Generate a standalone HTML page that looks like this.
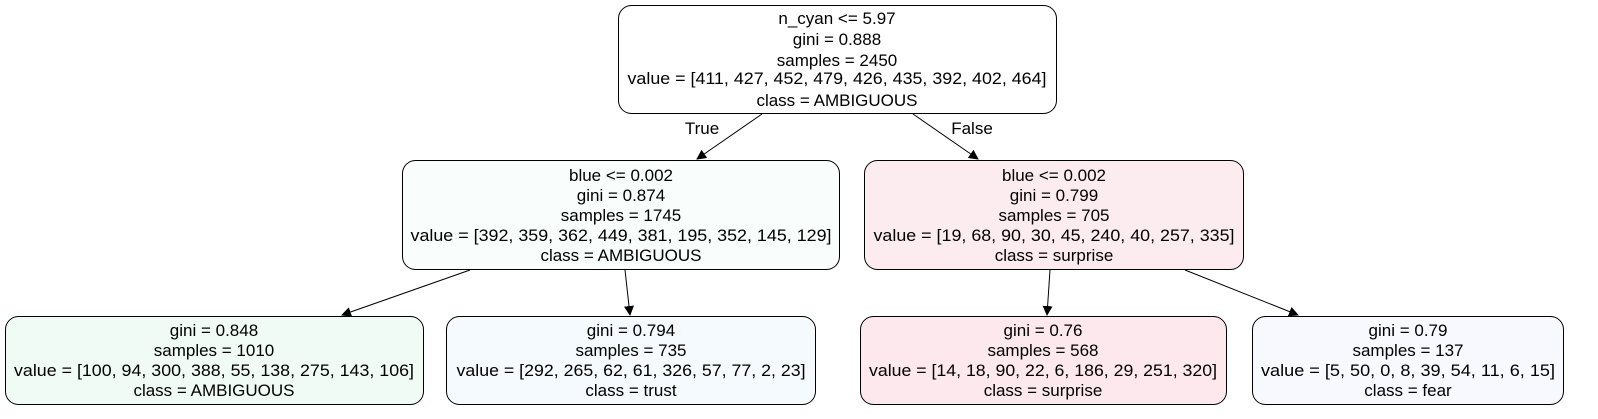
<!DOCTYPE html>
<html><head><meta charset="utf-8"><style>
html,body{margin:0;padding:0;background:#fff;}
svg{display:block;font-family:"Liberation Sans",sans-serif;}
text{font-size:17px;fill:#000;text-anchor:middle;}
</style></head><body>
<svg width="1598" height="419" viewBox="0 0 1598 419">
<defs><marker id="ah" markerWidth="10" markerHeight="10" refX="9" refY="5" orient="auto" markerUnits="userSpaceOnUse"><path d="M0,0 L10,5 L0,10 z" fill="#000"/></marker></defs>
<g stroke="#000" stroke-width="1">
<line x1="762" y1="114" x2="697" y2="159" marker-end="url(#ah)"/>
<line x1="913" y1="114" x2="978" y2="159" marker-end="url(#ah)"/>
<line x1="470" y1="270" x2="342" y2="315" marker-end="url(#ah)"/>
<line x1="625" y1="270" x2="630" y2="315" marker-end="url(#ah)"/>
<line x1="1050" y1="270" x2="1047" y2="315" marker-end="url(#ah)"/>
<line x1="1185" y1="270" x2="1298" y2="315" marker-end="url(#ah)"/>
</g>
<text x="702" y="134">True</text>
<text x="972" y="134">False</text>

<g>
<rect x="618.5" y="5.5" width="438" height="108" rx="13" fill="#fff" stroke="#000"/>
<text x="837" y="24">n_cyan &lt;= 5.97</text><text x="837" y="45">gini = 0.888</text><text x="837" y="66">samples = 2450</text><text x="837" y="84" textLength="419" lengthAdjust="spacingAndGlyphs">value = [411, 427, 452, 479, 426, 435, 392, 402, 464]</text><text x="837" y="106">class = AMBIGUOUS</text>
</g>
<g>
<rect x="402.5" y="160.5" width="437" height="109" rx="13" fill="#f9fefd" stroke="#000"/>
<text x="621" y="181">blue &lt;= 0.002</text><text x="621" y="201">gini = 0.874</text><text x="621" y="221">samples = 1745</text><text x="621" y="241" textLength="421" lengthAdjust="spacingAndGlyphs">value = [392, 359, 362, 449, 381, 195, 352, 145, 129]</text><text x="621" y="261">class = AMBIGUOUS</text>
</g>
<g>
<rect x="864.5" y="160.5" width="379" height="109" rx="13" fill="#fdecef" stroke="#000"/>
<text x="1054" y="181">blue &lt;= 0.002</text><text x="1054" y="201">gini = 0.799</text><text x="1054" y="221">samples = 705</text><text x="1054" y="241" textLength="361" lengthAdjust="spacingAndGlyphs">value = [19, 68, 90, 30, 45, 240, 40, 257, 335]</text><text x="1054" y="261">class = surprise</text>
</g>
<g>
<rect x="5.5" y="316.5" width="418" height="88" rx="13" fill="#f0fbf5" stroke="#000"/>
<text x="214" y="336">gini = 0.848</text><text x="214" y="356">samples = 1010</text><text x="214" y="376" textLength="400" lengthAdjust="spacingAndGlyphs">value = [100, 94, 300, 388, 55, 138, 275, 143, 106]</text><text x="214" y="396">class = AMBIGUOUS</text>
</g>
<g>
<rect x="446.5" y="316.5" width="369" height="88" rx="13" fill="#f5fafe" stroke="#000"/>
<text x="631" y="336">gini = 0.794</text><text x="631" y="356">samples = 735</text><text x="631" y="376" textLength="349" lengthAdjust="spacingAndGlyphs">value = [292, 265, 62, 61, 326, 57, 77, 2, 23]</text><text x="631" y="396">class = trust</text>
</g>
<g>
<rect x="860.5" y="316.5" width="366" height="88" rx="13" fill="#fde8ed" stroke="#000"/>
<text x="1043" y="336">gini = 0.76</text><text x="1043" y="356">samples = 568</text><text x="1043" y="376" textLength="348" lengthAdjust="spacingAndGlyphs">value = [14, 18, 90, 22, 6, 186, 29, 251, 320]</text><text x="1043" y="396">class = surprise</text>
</g>
<g>
<rect x="1252.5" y="316.5" width="311" height="88" rx="13" fill="#f8f9fe" stroke="#000"/>
<text x="1408" y="336">gini = 0.79</text><text x="1408" y="356">samples = 137</text><text x="1408" y="376" textLength="294" lengthAdjust="spacingAndGlyphs">value = [5, 50, 0, 8, 39, 54, 11, 6, 15]</text><text x="1408" y="396">class = fear</text>
</g>
</svg>
</body></html>
